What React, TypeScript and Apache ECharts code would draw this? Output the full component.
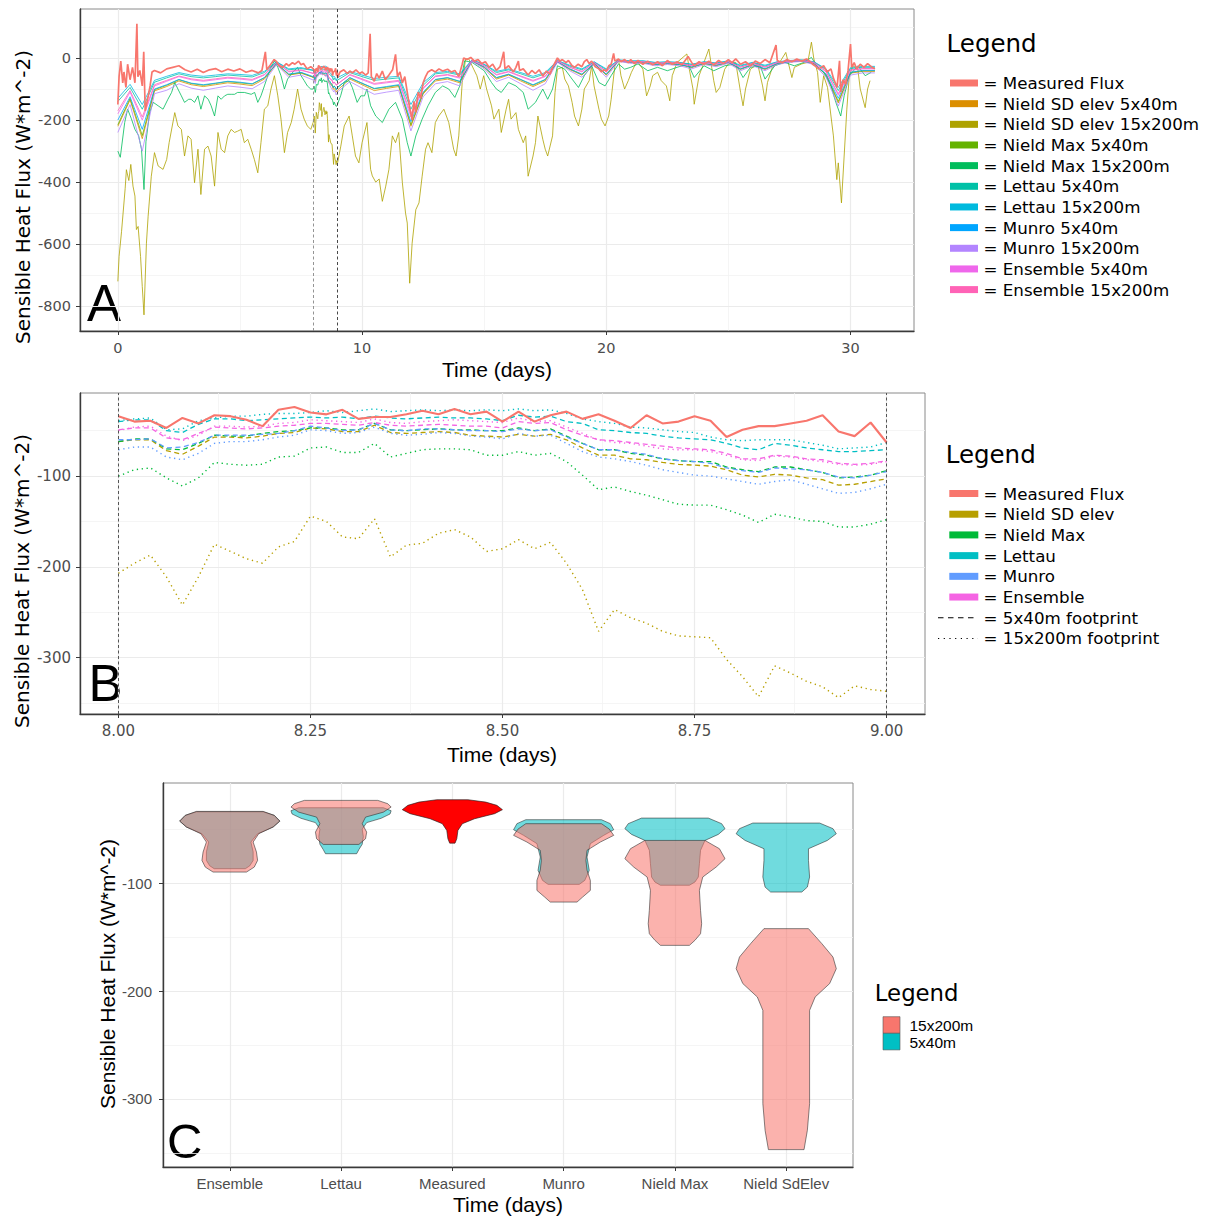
import React, { useEffect, useRef } from 'react';
import * as echarts from 'echarts';

type Pt = [number, number];

// ================= Panel A : whole record (days) =================
const A_X_TICKS = [0, 10, 20, 30];
const A_X_MINOR = [5, 15, 25];
const A_Y_TICKS = [0, -200, -400, -600, -800];
const A_Y_MINOR = [100, -100, -300, -500, -700];
const A_MARKER_DAYS = [8, 9];
const A_HALF_DAY = 0.5;

const A_MEASURED: Pt[] = [
  [0, -150], [0.05, -60], [0.12, -10], [0.2, -80], [0.25, -45], [0.33, -95], [0.4, -20], [0.5, -70], [0.6, -30], [0.7, -80],
  [0.78, 110], [0.82, -60], [0.9, -40], [1.0, -90], [1.06, 20], [1.12, -170], [1.2, -140], [1.25, -120], [1.32, -90], [1.4, -45],
  [1.5, -40], [1.75, -48], [2.0, -35], [2.25, -30], [2.5, -25], [2.75, -38], [3.0, -45], [3.25, -36], [3.5, -47], [3.75, -38],
  [4.0, -34], [4.25, -44], [4.5, -36], [4.75, -42], [5.0, -35], [5.25, -46], [5.5, -40], [5.75, -48], [5.9, -40], [6.04, 20],
  [6.1, -38], [6.25, -22], [6.4, -5], [6.5, -12], [6.6, -25], [6.75, -30], [6.9, -18], [7.0, -25], [7.15, -15], [7.25, -20],
  [7.4, -10], [7.5, -22], [7.6, -18], [7.75, -35], [7.9, -28],
  [9.1, -45], [9.25, -38], [9.4, -50], [9.5, -42], [9.6, -48], [9.75, -38], [9.9, -50], [10.0, -45], [10.15, -55], [10.25, -48],
  [10.33, 78], [10.38, -60], [10.5, -75], [10.6, -50], [10.7, -65], [10.83, -42], [10.95, -70], [11.1, -55], [11.25, -38], [11.37, 12],
  [11.45, -60], [11.55, -45], [11.65, -80], [11.75, -60], [11.85, -110], [11.95, -160], [12.05, -200], [12.12, -140], [12.19, -175], [12.3, -110],
  [12.4, -130], [12.5, -80], [12.6, -60], [12.7, -45], [12.85, -38], [13.0, -45], [13.15, -35], [13.3, -42], [13.5, -36], [13.65, -45],
  [13.8, -40], [13.96, -60], [14.1, -20], [14.16, 0], [14.3, -5], [14.45, 2], [14.6, -10], [14.75, -5], [14.9, -18], [15.05, -12],
  [15.2, -30], [15.35, -20], [15.5, -40], [15.65, -28], [15.8, 20], [15.85, -35], [16.0, -25], [16.2, -45], [16.3, -30], [16.4, -10],
  [16.45, -40], [16.6, -35], [16.8, -55], [16.95, -40], [17.1, -50], [17.25, -38], [17.4, -58], [17.55, -42], [17.7, -52], [17.8, -30],
  [17.9, -15], [18.0, 0], [18.1, -10], [18.2, -5], [18.35, -15], [18.45, -8], [18.6, -25], [18.7, -30], [18.85, -20], [19.0, -28],
  [19.1, -12], [19.2, -5], [19.3, -18], [19.4, -10], [19.55, -28], [19.7, -35], [19.8, -45], [19.9, -38], [20.0, -42], [20.1, -25],
  [20.2, -20], [20.3, 15], [20.35, -10], [20.5, -3], [20.6, -12], [20.75, -5], [20.9, -15],
  [21.0, -5], [21.15, -18], [21.3, -8], [21.5, -20], [21.7, -10], [21.9, -22], [22.1, -12], [22.3, -25], [22.5, -8], [22.7, -20],
  [22.9, -12], [23.1, -22], [23.35, 5], [23.5, -15], [23.6, -25], [23.8, -12], [24.0, -20], [24.2, -10], [24.4, -22], [24.6, -8],
  [24.8, -18], [25.0, -5], [25.15, -15], [25.3, -3], [25.5, -20], [25.7, -12], [25.9, -25], [26.1, -10], [26.3, -18], [26.5, -5],
  [26.7, -15], [26.95, 42], [27.0, -8], [27.2, -15], [27.4, -5], [27.6, -12], [27.8, -3], [28.0, -10], [28.2, -3], [28.35, -12],
  [28.45, -20], [28.6, -28], [28.7, -35], [28.9, -25], [29.05, -45], [29.2, -35], [29.3, -65], [29.45, -95], [29.55, -9], [29.6, -110],
  [29.7, -70], [29.8, -85], [29.9, -40], [30.0, 45], [30.05, -30], [30.15, -15], [30.25, -35], [30.4, -20], [30.55, -30], [30.7, -18],
  [30.85, -28], [31.0, -35],
];

const A_NIELD_SD_15: Pt[] = [
  [0, -720], [0.05, -640], [0.15, -560], [0.3, -420], [0.35, -360], [0.45, -395], [0.53, -343], [0.62, -413], [0.7, -445], [0.76, -553],
  [0.83, -543], [0.93, -640], [1.0, -737], [1.07, -828], [1.17, -597], [1.24, -510], [1.37, -381], [1.5, -305], [1.65, -348], [1.85, -359],
  [2.0, -327], [2.1, -273], [2.33, -176], [2.46, -219], [2.6, -230], [2.73, -316], [2.87, -251], [3.0, -262], [3.14, -402], [3.28, -294],
  [3.4, -440], [3.55, -294], [3.69, -284], [3.82, -316], [3.96, -413], [4.1, -240], [4.23, -294], [4.37, -305], [4.5, -251], [4.64, -230],
  [4.78, -240], [4.9, -236], [5.05, -230], [5.18, -273], [5.32, -262], [5.46, -294], [5.59, -327], [5.73, -370], [5.86, -273], [6.0, -165],
  [6.14, -154], [6.27, -100], [6.41, -57], [6.55, -122], [6.68, -197], [6.82, -305], [6.95, -240], [7.1, -208], [7.22, -165], [7.36, -100],
  [7.5, -165], [7.63, -197], [7.76, -219], [7.9, -230],
  [9.13, -284], [9.27, -219], [9.47, -187], [9.6, -251], [9.73, -316], [9.87, -338], [10.0, -273], [10.2, -208], [10.35, -359], [10.42, -380],
  [10.56, -400], [10.7, -390], [10.83, -462], [10.97, -413], [11.1, -359], [11.24, -251], [11.37, -273], [11.5, -240], [11.65, -402], [11.78, -500],
  [11.85, -532], [11.95, -726], [12.05, -597], [12.2, -489], [12.33, -467], [12.46, -381], [12.6, -294], [12.7, -273], [12.86, -305], [13.0, -208],
  [13.14, -187], [13.35, -165], [13.55, -208], [13.75, -294], [13.85, -316], [13.96, -251], [14.1, -79], [14.24, -3], [14.37, -3], [14.57, -36],
  [14.7, -57], [14.84, -100], [14.98, -57], [15.1, -100], [15.3, -154], [15.4, -197], [15.6, -165], [15.7, -240], [15.9, -165], [16.0, -133],
  [16.1, -197], [16.3, -176], [16.4, -230], [16.6, -273], [16.7, -251], [16.8, -381], [17.0, -316], [17.1, -273], [17.2, -187], [17.4, -262],
  [17.5, -294], [17.6, -316], [17.8, -251], [17.9, -111], [18.0, -36], [18.2, -30], [18.3, -68], [18.45, -90], [18.6, -143], [18.7, -187],
  [18.86, -219], [19.0, -165], [19.1, -100], [19.3, -73], [19.4, -25], [19.5, -90], [19.7, -165], [19.8, -197], [19.95, -219], [20.1, -187],
  [20.2, -133], [20.35, -25], [20.5, -3], [20.6, -57], [20.75, -100], [20.9, -73], [21.03, -46], [21.2, -19], [21.3, -14], [21.5, -36],
  [21.65, -122], [21.8, -90], [21.9, -57], [22.1, -46], [22.25, -73], [22.46, -90], [22.6, -138], [22.7, -57], [22.9, -14], [23.3, 13],
  [23.4, -36], [23.55, -100], [23.6, -149], [23.8, -57], [24.0, -14], [24.2, 29], [24.4, -73], [24.5, -111], [24.65, -95], [24.85, -36],
  [25.0, -19], [25.3, -14], [25.5, -111], [25.6, -154], [25.7, -100], [25.9, -36], [26.2, -19], [26.4, -90], [26.5, -138], [26.6, -79],
  [26.8, -30], [27.1, -14], [27.35, 18], [27.6, -63], [27.7, -30], [28.0, -19], [28.25, -14], [28.4, 51], [28.5, -3], [28.65, -46],
  [28.76, -143], [28.9, -57], [29.06, -95], [29.2, -187], [29.3, -251], [29.44, -392], [29.5, -338], [29.63, -467], [29.74, -316], [29.85, -165],
  [29.95, -57], [30.1, -25], [30.3, -36], [30.4, -100], [30.6, -160], [30.7, -100], [30.8, -73],
];

const A_NIELD_MAX_15: Pt[] = [
  [0, -300], [0.1, -320], [0.28, -208], [0.4, -165], [0.55, -195], [0.7, -230], [0.85, -250], [0.97, -295], [1.07, -424], [1.15, -270],
  [1.3, -176], [1.45, -143], [1.65, -154], [1.85, -165], [2.05, -133], [2.2, -111], [2.33, -79], [2.46, -100], [2.6, -122], [2.73, -143],
  [2.9, -133], [3.0, -133], [3.14, -143], [3.28, -122], [3.4, -165], [3.55, -122], [3.7, -133], [3.82, -154], [3.96, -187], [4.1, -122],
  [4.23, -133], [4.37, -122], [4.5, -117], [4.64, -117], [4.78, -117], [4.9, -111], [5.18, -111], [5.46, -117], [5.6, -111], [5.73, -143],
  [5.86, -122], [6.0, -90], [6.14, -57], [6.27, -30], [6.41, -9], [6.55, -30], [6.68, -57], [6.82, -100], [6.95, -68], [7.1, -52],
  [7.22, -41], [7.36, -30], [7.5, -57], [7.63, -73], [7.76, -90], [7.9, -100],
  [9.13, -120], [9.27, -79], [9.47, -73], [9.6, -95], [9.8, -143], [9.95, -122], [10.1, -122], [10.2, -100], [10.35, -154], [10.56, -187],
  [10.83, -208], [11.1, -165], [11.37, -143], [11.65, -197], [11.85, -273], [12.0, -316], [12.2, -251], [12.46, -197], [12.7, -154], [13.0, -111],
  [13.3, -90], [13.55, -100], [13.8, -127], [14.0, -90], [14.2, -9], [14.5, -14], [14.8, -30], [15.0, -41], [15.3, -79], [15.5, -100],
  [15.7, -111], [16.0, -79], [16.3, -90], [16.6, -111], [16.8, -165], [17.1, -143], [17.4, -100], [17.6, -133], [17.8, -100], [18.0, -25],
  [18.3, -36], [18.6, -68], [18.86, -95], [19.1, -57], [19.4, -25], [19.7, -79], [19.95, -90], [20.2, -57], [20.5, -19], [20.75, -36],
  [21.0, -30], [21.3, -19], [21.7, -41], [22.1, -30], [22.5, -41], [22.9, -30], [23.35, -19], [23.6, -63], [24.0, -25], [24.4, -41],
  [24.85, -25], [25.3, -19], [25.6, -63], [25.9, -30], [26.3, -25], [26.5, -68], [26.9, -25], [27.3, -14], [27.7, -25], [28.1, -14],
  [28.4, 2], [28.65, -30], [28.9, -46], [29.2, -90], [29.4, -143], [29.6, -187], [29.74, -122], [29.95, -57], [30.3, -25], [30.6, -57],
  [30.85, -46],
];

// half-day samples, day 0 .. 31
const A_NIELD_SD_5 = [-220, -135, -260, -106, -92, -74, -86, -92, -86, -80, -84, -89, -68, -18, -55, -49, -62, -57, -103, -68, -86, -105, -98, -92, -220, -116, -74, -68, -80, -10, -31, -68, -55, -74, -92, -74, -12, -37, -55, -18, -55, -10, -15, -15, -22, -18, -22, -31, -18, -25, -15, -37, -22, -37, -18, -12, -10, -18, -55, -145, -49, -43, -43];
const A_NIELD_MAX_5 = [-215, -130, -250, -102, -88, -70, -82, -88, -82, -76, -80, -84, -64, -18, -53, -47, -62, -50, -94, -64, -82, -99, -94, -88, -215, -113, -70, -64, -76, -9, -29, -64, -53, -70, -88, -70, -12, -35, -53, -18, -53, -9, -14, -14, -21, -18, -21, -29, -18, -23, -14, -35, -21, -35, -18, -12, -9, -18, -53, -140, -47, -41, -41];
const A_LETTAU_5 = [-140, -95, -165, -78, -64, -51, -60, -64, -60, -55, -58, -61, -47, -13, -38, -34, -40, -38, -71, -47, -60, -72, -68, -64, -165, -88, -51, -47, -55, -7, -21, -47, -38, -51, -64, -51, -9, -26, -38, -13, -38, -7, -10, -10, -15, -13, -15, -21, -13, -17, -10, -26, -15, -26, -13, -9, -7, -13, -38, -105, -34, -30, -30];
const A_LETTAU_15 = [-130, -85, -150, -72, -59, -47, -55, -59, -55, -51, -53, -56, -43, -12, -35, -31, -39, -28, -63, -43, -55, -66, -62, -59, -150, -80, -47, -43, -51, -6, -20, -43, -35, -47, -59, -47, -8, -23, -35, -12, -35, -6, -9, -9, -14, -12, -14, -20, -12, -16, -9, -23, -14, -23, -12, -8, -6, -12, -35, -95, -31, -27, -27];
const A_MUNRO_5 = [-200, -125, -230, -100, -86, -69, -81, -86, -81, -75, -78, -83, -63, -17, -52, -46, -60, -51, -95, -63, -81, -98, -92, -86, -205, -110, -69, -63, -75, -9, -29, -63, -52, -69, -86, -69, -12, -35, -52, -17, -52, -9, -14, -14, -21, -17, -21, -29, -17, -23, -14, -35, -21, -35, -17, -12, -9, -17, -52, -130, -46, -40, -40];
const A_MUNRO_15 = [-240, -150, -300, -115, -104, -83, -97, -104, -97, -90, -94, -99, -76, -21, -62, -55, -71, -59, -109, -76, -97, -117, -110, -104, -235, -125, -83, -76, -90, -11, -35, -76, -62, -83, -104, -83, -14, -41, -62, -21, -62, -11, -17, -17, -25, -21, -25, -35, -21, -28, -17, -41, -25, -41, -21, -14, -11, -21, -62, -155, -55, -48, -48];
const A_ENSEMBLE_5 = [-180, -110, -200, -90, -75, -60, -70, -75, -70, -65, -68, -72, -55, -15, -45, -40, -49, -46, -83, -55, -70, -85, -80, -75, -190, -100, -60, -55, -65, -8, -25, -55, -45, -60, -75, -60, -10, -30, -45, -15, -45, -8, -12, -12, -18, -15, -18, -25, -15, -20, -12, -30, -18, -30, -15, -10, -8, -15, -45, -120, -40, -35, -35];
const A_ENSEMBLE_15 = [-170, -105, -190, -86, -72, -58, -67, -72, -67, -62, -65, -69, -53, -14, -43, -38, -50, -41, -84, -53, -67, -82, -77, -72, -180, -96, -58, -53, -62, -8, -24, -53, -43, -58, -72, -58, -10, -29, -43, -14, -43, -8, -12, -12, -17, -14, -17, -24, -14, -19, -12, -29, -17, -29, -14, -10, -8, -14, -43, -115, -38, -34, -34];

// ================= Panel B : day 8 to 9, 30-min values =================
const B_START = 8;
const B_STEPS_PER_DAY = 48;
const B_X_TICKS = [8, 8.25, 8.5, 8.75, 9];
const B_X_MINOR = [8.125, 8.375, 8.625, 8.875];
const B_Y_TICKS = [-100, -200, -300];
const B_Y_MINOR = [-50, -150, -250, -350];
const B_MARKER_DAYS = [8, 9];

const B_MEASURED = [-34, -40, -39, -47, -36, -42, -33, -34, -38, -45, -27, -24, -30, -32, -27, -37, -35, -35, -32, -28, -32, -26, -32, -29, -40, -29, -40, -33, -29, -37, -32, -39, -47, -33, -42, -40, -34, -39, -57, -49, -45, -45, -42, -39, -33, -51, -56, -41, -63];
const B_NIELD_SD_15 = [-207, -196, -187, -211, -242, -211, -175, -183, -191, -196, -178, -172, -144, -150, -167, -169, -147, -189, -176, -174, -163, -159, -167, -183, -180, -170, -180, -173, -196, -225, -271, -247, -256, -262, -271, -276, -277, -278, -302, -321, -343, -309, -317, -326, -332, -344, -331, -335, -337];
const B_NIELD_MAX_15 = [-100, -93, -91, -102, -111, -102, -85, -87, -88, -87, -79, -78, -69, -68, -74, -74, -64, -79, -75, -71, -70, -70, -71, -77, -77, -73, -77, -75, -84, -99, -115, -112, -117, -121, -126, -131, -132, -132, -137, -143, -151, -142, -145, -149, -150, -156, -156, -153, -148];
const B_LETTAU_15 = [-39, -37, -36, -49, -48, -39, -36, -34, -34, -32, -31, -31, -30, -28, -30, -28, -26, -29, -28, -27, -28, -27, -28, -27, -28, -26, -28, -27, -31, -37, -40, -42, -46, -47, -49, -51, -52, -57, -60, -61, -60, -60, -60, -63, -66, -70, -69, -68, -63];
const B_LETTAU_5 = [-40, -38, -38, -50, -52, -43, -37, -37, -39, -38, -37, -36, -35, -36, -35, -37, -34, -36, -37, -36, -35, -36, -36, -37, -39, -33, -35, -34, -40, -42, -49, -50, -52, -53, -56, -58, -59, -60, -64, -69, -71, -64, -66, -69, -71, -73, -73, -72, -71];
const B_ENSEMBLE_15 = [-50, -46, -45, -56, -61, -55, -45, -45, -46, -45, -42, -41, -38, -39, -40, -41, -37, -41, -42, -40, -39, -38, -39, -40, -41, -36, -40, -39, -46, -53, -60, -63, -64, -67, -70, -71, -71, -73, -77, -82, -83, -78, -79, -82, -84, -87, -88, -87, -84];
const B_ENSEMBLE_5 = [-49, -47, -47, -58, -60, -53, -46, -47, -48, -47, -45, -44, -42, -42, -43, -44, -41, -44, -45, -44, -43, -44, -45, -45, -47, -40, -42, -41, -49, -55, -60, -61, -63, -65, -67, -69, -70, -71, -75, -81, -81, -77, -78, -81, -82, -86, -87, -86, -83];
const B_MUNRO_5 = [-60, -60, -59, -69, -68, -63, -55, -55, -55, -54, -53, -50, -45, -47, -50, -49, -42, -49, -50, -48, -48, -49, -50, -50, -51, -48, -50, -49, -57, -64, -71, -71, -74, -76, -81, -83, -84, -86, -91, -94, -96, -91, -92, -93, -96, -101, -102, -99, -95];
const B_NIELD_MAX_5 = [-62, -59, -59, -70, -71, -64, -55, -56, -56, -53, -51, -50, -47, -47, -49, -49, -42, -49, -50, -49, -48, -49, -49, -50, -50, -47, -50, -48, -56, -64, -71, -71, -75, -77, -81, -83, -84, -84, -90, -93, -95, -90, -90, -93, -96, -102, -101, -99, -94];
const B_NIELD_SD_5 = [-62, -60, -60, -72, -76, -67, -57, -57, -58, -56, -53, -52, -47, -48, -51, -51, -44, -52, -53, -52, -51, -52, -55, -56, -57, -54, -56, -54, -60, -69, -77, -77, -81, -82, -85, -87, -88, -89, -93, -99, -101, -98, -99, -102, -104, -110, -109, -106, -103];
const B_MUNRO_15 = [-71, -68, -68, -79, -82, -75, -64, -62, -62, -60, -57, -55, -49, -50, -53, -52, -46, -53, -55, -54, -52, -53, -56, -57, -59, -53, -56, -55, -64, -73, -79, -81, -84, -88, -93, -96, -99, -100, -103, -106, -109, -106, -104, -109, -114, -119, -118, -114, -109];

// ================= Panel C : violins [value, half-width in category units] =================
const C_CATEGORIES = ['Ensemble', 'Lettau', 'Measured', 'Munro', 'Nield Max', 'Nield SdElev'];
const C_Y_TICKS = [-100, -200, -300];
const C_Y_MINOR = [-50, -150, -250, -350];

const V_ENSEMBLE_5: Pt[] = [[-34, 0.30], [-37.3, 0.40], [-42.6, 0.45], [-48, 0.39], [-54.3, 0.25], [-62, 0.19], [-71, 0.21], [-79, 0.21], [-84, 0.18], [-86.7, 0.14]];
const V_ENSEMBLE_15: Pt[] = [[-33.6, 0.30], [-37.3, 0.40], [-42.6, 0.45], [-48, 0.39], [-54.3, 0.26], [-62, 0.21], [-71.3, 0.24], [-79, 0.25], [-85.2, 0.22], [-89.8, 0.15]];
const V_LETTAU_5: Pt[] = [[-30.2, 0.38], [-33, 0.45], [-36, 0.44], [-40, 0.36], [-44, 0.23], [-50, 0.19], [-57, 0.20], [-64, 0.19], [-69, 0.16], [-72.8, 0.14]];
const V_LETTAU_15: Pt[] = [[-23.4, 0.33], [-26.5, 0.42], [-29.6, 0.45], [-34.3, 0.38], [-38.9, 0.22], [-45, 0.19], [-52.8, 0.23], [-58.9, 0.22], [-64.2, 0.16]];
const V_MEASURED: Pt[] = [[-22.8, 0.14], [-25, 0.30], [-28, 0.40], [-32, 0.45], [-35.7, 0.38], [-40.4, 0.20], [-45, 0.09], [-51.2, 0.05], [-58.9, 0.04], [-63, 0.024]];
const V_MUNRO_5: Pt[] = [[-41.3, 0.34], [-45, 0.42], [-50.6, 0.45], [-55.8, 0.36], [-63.5, 0.24], [-75.9, 0.21], [-88.2, 0.23], [-97.5, 0.19], [-101.2, 0.14]];
const V_MUNRO_15: Pt[] = [[-45, 0.34], [-50, 0.41], [-55.8, 0.45], [-62, 0.33], [-69.7, 0.21], [-79, 0.20], [-88, 0.21], [-97.5, 0.24], [-106.8, 0.24], [-113, 0.17], [-117.6, 0.12]];
const V_NIELD_MAX_5: Pt[] = [[-39.8, 0.30], [-45, 0.42], [-49.6, 0.45], [-54.9, 0.39], [-60.5, 0.27], [-69.7, 0.23], [-82, 0.22], [-94.4, 0.21], [-99, 0.18], [-102, 0.13]];
const V_NIELD_MAX_15: Pt[] = [[-60.5, 0.27], [-68.2, 0.40], [-77.4, 0.45], [-85.2, 0.37], [-94.4, 0.25], [-106.8, 0.22], [-125.3, 0.23], [-137.6, 0.24], [-146.9, 0.23], [-153, 0.18], [-157.7, 0.13]];
const V_NIELD_SD_5: Pt[] = [[-44.4, 0.30], [-49.6, 0.42], [-54.3, 0.45], [-60.5, 0.37], [-68.2, 0.20], [-79, 0.20], [-94.4, 0.21], [-103.7, 0.19], [-108.3, 0.14]];
const V_NIELD_SD_15: Pt[] = [[-142.2, 0.20], [-156.1, 0.32], [-168.5, 0.42], [-179.3, 0.45], [-193.1, 0.39], [-205.5, 0.26], [-217.9, 0.21], [-242.6, 0.21], [-304.3, 0.21], [-329, 0.19], [-346.9, 0.16]];

// ================= helpers =================
const halfDay = (vals: number[]): Pt[] => vals.map((v, i) => [i * A_HALF_DAY, v]);
const bPoints = (vals: number[]): Pt[] => vals.map((v, i) => [B_START + i / B_STEPS_PER_DAY, v]);
function withDay8to9(a: Pt[], b: number[]): Pt[] {
  const end = B_START + (b.length - 1) / B_STEPS_PER_DAY;
  const out: Pt[] = a.filter(([t]) => t < B_START || t > end);
  bPoints(b).forEach((p) => out.push(p));
  return out.sort((p, q) => p[0] - q[0]);
}

const A_SERIES = [
  { name: 'Measured Flux', color: '#F8766D', data: withDay8to9(A_MEASURED, B_MEASURED), width: 1.7 },
  { name: 'Nield SD elev 5x40m', color: '#DB8E00', data: withDay8to9(halfDay(A_NIELD_SD_5), B_NIELD_SD_5), width: 0.8 },
  { name: 'Nield SD elev 15x200m', color: '#AEA200', data: withDay8to9(A_NIELD_SD_15, B_NIELD_SD_15), width: 0.8 },
  { name: 'Nield Max 5x40m', color: '#64B200', data: withDay8to9(halfDay(A_NIELD_MAX_5), B_NIELD_MAX_5), width: 0.8 },
  { name: 'Nield Max 15x200m', color: '#00BD5C', data: withDay8to9(A_NIELD_MAX_15, B_NIELD_MAX_15), width: 0.8 },
  { name: 'Lettau 5x40m', color: '#00C1A7', data: withDay8to9(halfDay(A_LETTAU_5), B_LETTAU_5), width: 0.8 },
  { name: 'Lettau 15x200m', color: '#00BADE', data: withDay8to9(halfDay(A_LETTAU_15), B_LETTAU_15), width: 0.8 },
  { name: 'Munro 5x40m', color: '#00A6FF', data: withDay8to9(halfDay(A_MUNRO_5), B_MUNRO_5), width: 0.8 },
  { name: 'Munro 15x200m', color: '#B385FF', data: withDay8to9(halfDay(A_MUNRO_15), B_MUNRO_15), width: 0.8 },
  { name: 'Ensemble 5x40m', color: '#EF67EB', data: withDay8to9(halfDay(A_ENSEMBLE_5), B_ENSEMBLE_5), width: 0.8 },
  { name: 'Ensemble 15x200m', color: '#FF63B6', data: withDay8to9(halfDay(A_ENSEMBLE_15), B_ENSEMBLE_15), width: 0.8 },
];

const DASHED = [5, 3.5];
const DOTTED = [1.3, 3.6];
const B_MODELS = [
  { name: 'Measured Flux', color: '#F8766D' },
  { name: 'Nield SD elev', color: '#B79F00', d5: B_NIELD_SD_5, d15: B_NIELD_SD_15 },
  { name: 'Nield Max', color: '#00BA38', d5: B_NIELD_MAX_5, d15: B_NIELD_MAX_15 },
  { name: 'Lettau', color: '#00BFC4', d5: B_LETTAU_5, d15: B_LETTAU_15 },
  { name: 'Munro', color: '#619CFF', d5: B_MUNRO_5, d15: B_MUNRO_15 },
  { name: 'Ensemble', color: '#F564E3', d5: B_ENSEMBLE_5, d15: B_ENSEMBLE_15 },
];

const catPos = (name: string) => C_CATEGORIES.indexOf(name) + 1;
const C_TEAL = [
  { cat: catPos('Ensemble'), prof: V_ENSEMBLE_5 },
  { cat: catPos('Lettau'), prof: V_LETTAU_5 },
  { cat: catPos('Munro'), prof: V_MUNRO_5 },
  { cat: catPos('Nield Max'), prof: V_NIELD_MAX_5 },
  { cat: catPos('Nield SdElev'), prof: V_NIELD_SD_5 },
];
const C_PINK = [
  { cat: catPos('Ensemble'), prof: V_ENSEMBLE_15 },
  { cat: catPos('Lettau'), prof: V_LETTAU_15 },
  { cat: catPos('Munro'), prof: V_MUNRO_15 },
  { cat: catPos('Nield Max'), prof: V_NIELD_MAX_15 },
  { cat: catPos('Nield SdElev'), prof: V_NIELD_SD_15 },
];
const C_RED = [{ cat: catPos('Measured'), prof: V_MEASURED }];

const TICK_FONT = 'DejaVu Sans';
const GRID_MAJOR = { color: '#EBEBEB', width: 1.2, type: 'solid' };
const GRID_MINOR = { color: '#F2F2F2', width: 0.8, type: 'solid' };

function gridLines(idx: number, xMaj: number[], xMin: number[], yMaj: number[], yMin: number[]) {
  const data: any[] = [];
  xMin.forEach((v) => data.push({ xAxis: v, lineStyle: GRID_MINOR }));
  yMin.forEach((v) => data.push({ yAxis: v, lineStyle: GRID_MINOR }));
  xMaj.forEach((v) => data.push({ xAxis: v, lineStyle: GRID_MAJOR }));
  yMaj.forEach((v) => data.push({ yAxis: v, lineStyle: GRID_MAJOR }));
  return {
    type: 'line', xAxisIndex: idx, yAxisIndex: idx, data: [], z: 0, silent: true,
    markLine: { silent: true, z: 0, zlevel: 0, symbol: ['none', 'none'], label: { show: false }, animation: false, data },
  };
}

function markers(idx: number, days: number[], colors: string[]) {
  return {
    type: 'line', xAxisIndex: idx, yAxisIndex: idx, data: [], z: 10, silent: true,
    markLine: {
      silent: true, z: 10, symbol: ['none', 'none'], label: { show: false }, animation: false,
      data: days.map((d, i) => ({ xAxis: d, lineStyle: { color: colors[i], width: 0.9, type: [3, 2.5] } })),
    },
  };
}

function xAxisCfg(idx: number, min: number, max: number, ticks: number[], fmt: (v: number) => string, font: string, size: number) {
  return {
    gridIndex: idx, type: 'value', min, max,
    axisLine: { show: true, onZero: false, lineStyle: { color: '#3a3a3a', width: 1.4 } },
    axisTick: { show: true, customValues: ticks, length: 4, lineStyle: { color: '#3a3a3a', width: 1 } },
    axisLabel: { show: true, customValues: ticks, formatter: fmt, color: '#4D4D4D', fontFamily: font, fontSize: size, margin: 9 },
    splitLine: { show: false },
  };
}
function yAxisCfg(idx: number, min: number, max: number, ticks: number[], font: string, size: number, margin: number) {
  return {
    gridIndex: idx, type: 'value', min, max,
    axisLine: { show: true, onZero: false, lineStyle: { color: '#3a3a3a', width: 1.4 } },
    axisTick: { show: true, customValues: ticks, length: 4, lineStyle: { color: '#3a3a3a', width: 1 } },
    axisLabel: { show: true, customValues: ticks, formatter: (v: number) => String(v), color: '#4D4D4D', fontFamily: font, fontSize: size, margin },
    splitLine: { show: false },
  };
}

function violinSeries(list: { cat: number; prof: Pt[] }[], fill: string, stroke: string, z: number) {
  return {
    type: 'custom', xAxisIndex: 2, yAxisIndex: 2, z, silent: true,
    data: list.map((v) => [v.cat, v.prof[0][0]]),
    renderItem: (params: any, api: any) => {
      const v = list[params.dataIndex];
      const left = v.prof.map(([y, h]) => api.coord([v.cat - h, y]));
      const right = v.prof.slice().reverse().map(([y, h]) => api.coord([v.cat + h, y]));
      return { type: 'polygon', shape: { points: left.concat(right) }, style: { fill, stroke, lineWidth: 0.7 } };
    },
  };
}

function txt(x: number, y: number, text: string, font: string, opts: any = {}) {
  return {
    type: 'text', x, y, rotation: opts.rotation || 0, silent: true,
    style: { text, font, fill: opts.fill || '#000', align: opts.align || 'left', verticalAlign: 'middle' },
  };
}

const LEGEND_ITEM_FONT = '16.7px "DejaVu Sans"';
function buildGraphics() {
  const g: any[] = [];
  // panel letters & axis titles
  g.push(txt(87, 303.5, 'A', '51px "Liberation Sans"'));
  g.push(txt(88.5, 683.4, 'B', '51px "Liberation Sans"'));
  g.push(txt(167, 1140.5, 'C', '49px "Liberation Sans"'));
  g.push(txt(497, 369.5, 'Time (days)', '21px "Liberation Sans"', { align: 'center' }));
  g.push(txt(502, 754.2, 'Time (days)', '21px "Liberation Sans"', { align: 'center' }));
  g.push(txt(508, 1204.8, 'Time (days)', '21px "Liberation Sans"', { align: 'center' }));
  g.push(txt(22.5, 197, 'Sensible Heat Flux (W*m^-2)', '20px "DejaVu Sans"', { align: 'center', rotation: Math.PI / 2 }));
  g.push(txt(22, 581, 'Sensible Heat Flux (W*m^-2)', '20px "DejaVu Sans"', { align: 'center', rotation: Math.PI / 2 }));
  g.push(txt(107, 974, 'Sensible Heat Flux (W*m^-2)', '21px "Liberation Sans"', { align: 'center', rotation: Math.PI / 2 }));

  // legend A
  g.push(txt(946.6, 43.7, 'Legend', '24.5px "DejaVu Sans"'));
  A_SERIES.forEach((s, i) => {
    const y = 83 + i * 20.66;
    g.push({ type: 'rect', silent: true, shape: { x: 950, y: y - 3.5, width: 28, height: 7 }, style: { fill: s.color } });
    g.push(txt(983.5, y, '= ' + s.name, LEGEND_ITEM_FONT));
  });
  // legend B
  g.push(txt(945.7, 454.5, 'Legend', '24.5px "DejaVu Sans"'));
  B_MODELS.forEach((m, i) => {
    const y = 493.5 + i * 20.71;
    g.push({ type: 'rect', silent: true, shape: { x: 949.3, y: y - 3.5, width: 29, height: 7 }, style: { fill: m.color } });
    g.push(txt(983.5, y, '= ' + m.name, LEGEND_ITEM_FONT));
  });
  [['5x40m footprint', DASHED], ['15x200m footprint', DOTTED]].forEach(([label], j) => {
    const y = 493.5 + (6 + j) * 20.71;
    g.push({ type: 'line', silent: true, shape: { x1: 938, y1: y, x2: 978, y2: y }, style: { stroke: '#000', lineWidth: 1.1, lineDash: j === 0 ? [5.5, 4.5] : [1.2, 4.5] } });
    g.push(txt(983.5, y, '= ' + label, LEGEND_ITEM_FONT));
  });
  // legend C
  g.push(txt(874.8, 992.8, 'Legend', '22.8px "DejaVu Sans"'));
  g.push({ type: 'rect', silent: true, shape: { x: 883, y: 1016.7, width: 17, height: 16.6 }, style: { fill: '#F8766D', stroke: '#555', lineWidth: 0.6 } });
  g.push({ type: 'rect', silent: true, shape: { x: 883, y: 1033.3, width: 17, height: 16.6 }, style: { fill: '#00BFC4', stroke: '#555', lineWidth: 0.6 } });
  g.push(txt(909.5, 1025.5, '15x200m', '15.5px "Liberation Sans"'));
  g.push(txt(909.5, 1042.2, '5x40m', '15.5px "Liberation Sans"'));
  return g;
}

function buildOption() {
  const series: any[] = [];
  series.push(gridLines(0, A_X_TICKS, A_X_MINOR, A_Y_TICKS, A_Y_MINOR));
  series.push(gridLines(1, B_X_TICKS, B_X_MINOR, B_Y_TICKS, B_Y_MINOR));
  series.push(gridLines(2, C_CATEGORIES.map((_, i) => i + 1), [], C_Y_TICKS, C_Y_MINOR));

  // panel A lines: models first, measured on top
  A_SERIES.slice(1).concat(A_SERIES.slice(0, 1)).forEach((s, k) => {
    series.push({
      type: 'line', name: s.name, xAxisIndex: 0, yAxisIndex: 0, data: s.data, z: 2 + (k === 10 ? 1 : 0),
      showSymbol: false, symbol: 'none', silent: true, lineStyle: { color: s.color, width: s.width }, itemStyle: { color: s.color },
    });
  });
  series.push(markers(0, A_MARKER_DAYS, ['#888', '#333']));

  // panel B lines
  B_MODELS.slice(1).forEach((m: any) => {
    series.push({
      type: 'line', xAxisIndex: 1, yAxisIndex: 1, data: bPoints(m.d5), z: 2, showSymbol: false, symbol: 'none', silent: true,
      lineStyle: { color: m.color, width: 1.3, type: DASHED },
    });
    series.push({
      type: 'line', xAxisIndex: 1, yAxisIndex: 1, data: bPoints(m.d15), z: 2, showSymbol: false, symbol: 'none', silent: true,
      lineStyle: { color: m.color, width: 1.4, type: DOTTED },
    });
  });
  series.push({
    type: 'line', xAxisIndex: 1, yAxisIndex: 1, data: bPoints(B_MEASURED), z: 3, showSymbol: false, symbol: 'none', silent: true,
    lineStyle: { color: '#F8766D', width: 2.1 },
  });
  series.push(markers(1, B_MARKER_DAYS, ['#444', '#444']));

  // panel C violins
  series.push(violinSeries(C_TEAL, 'rgba(0,191,196,0.56)', 'rgba(40,40,40,0.8)', 2));
  series.push(violinSeries(C_PINK, 'rgba(248,118,109,0.56)', 'rgba(40,40,40,0.8)', 3));
  series.push(violinSeries(C_RED, '#FF0000', 'rgba(30,30,30,0.9)', 3));

  const gridBase = { show: true, borderColor: '#8a8a8a', borderWidth: 1, backgroundColor: 'rgba(0,0,0,0)', containLabel: false };
  return {
    animation: false,
    backgroundColor: '#ffffff',
    textStyle: { fontFamily: TICK_FONT },
    grid: [
      { ...gridBase, left: 80, top: 9, width: 834, height: 322 },
      { ...gridBase, left: 80, top: 393, width: 845, height: 321 },
      { ...gridBase, left: 163, top: 783, width: 690, height: 384 },
    ],
    xAxis: [
      xAxisCfg(0, -1.55, 32.6, A_X_TICKS, (v) => String(v), TICK_FONT, 14.5),
      xAxisCfg(1, 7.95, 9.05, B_X_TICKS, (v) => v.toFixed(2), TICK_FONT, 15),
      xAxisCfg(2, 0.4, 6.6, C_CATEGORIES.map((_, i) => i + 1), (v) => C_CATEGORIES[Math.round(v) - 1] || '', 'Liberation Sans', 15),
    ],
    yAxis: [
      yAxisCfg(0, -880, 158, A_Y_TICKS, TICK_FONT, 14.5, 9),
      yAxisCfg(1, -362, -8.5, B_Y_TICKS, TICK_FONT, 15, 9),
      yAxisCfg(2, -363, -7.3, C_Y_TICKS, 'Liberation Sans', 15, 11),
    ],
    series,
    graphic: buildGraphics(),
  };
}

export default function App() {
  const ref = useRef<HTMLDivElement>(null);
  useEffect(() => {
    if (!ref.current) return;
    const chart = echarts.init(ref.current, null, { renderer: 'svg' });
    chart.setOption(buildOption() as any);
    return () => chart.dispose();
  }, []);
  return <div ref={ref} style={{ position: 'absolute', left: 0, top: 0, width: 1208, height: 1218, background: '#fff' }} />;
}
